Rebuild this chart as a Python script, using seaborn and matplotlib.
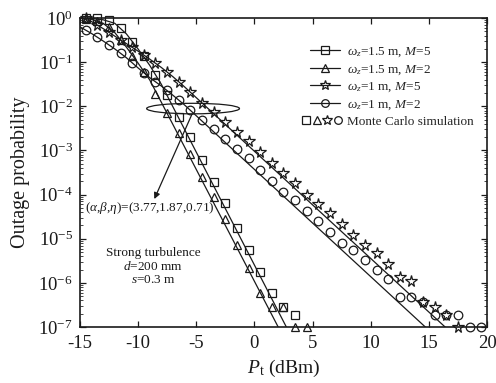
import numpy as np
import pandas as pd
import matplotlib
matplotlib.use("Agg")
import matplotlib.pyplot as plt
import seaborn as sns
from matplotlib.lines import Line2D
from matplotlib.patches import Ellipse
from matplotlib.legend_handler import HandlerBase
from matplotlib.ticker import LogLocator, NullFormatter, FixedLocator

# ---------------- data ----------------
# Monte Carlo simulation points (x in dBm, outage probability)
sq_x = [-14.5, -13.5, -12.5, -11.5, -10.5, -9.5, -8.5, -7.5, -6.5, -5.5, -4.5,
        -3.5, -2.5, -1.5, -0.5, 0.5, 1.5, 2.5, 3.5]
sq_p = [1.0, 1.0, 0.89, 0.59, 0.29, 0.14, 5.1e-2, 1.8e-2, 5.8e-3, 2.0e-3, 6.0e-4,
        1.9e-4, 6.3e-5, 1.8e-5, 5.5e-6, 1.8e-6, 5.8e-7, 2.8e-7, 1.9e-7]

tri_x = [-14.5, -13.5, -12.5, -11.5, -10.5, -9.5, -8.5, -7.5, -6.5, -5.5, -4.5,
         -3.5, -2.5, -1.5, -0.5, 0.5, 1.5, 2.5, 3.5, 4.5]
tri_p = [0.95, 0.87, 0.63, 0.32, 0.14, 6.0e-2, 1.9e-2, 7.1e-3, 2.5e-3, 8.3e-4,
         2.5e-4, 8.7e-5, 2.8e-5, 7.1e-6, 2.2e-6, 5.8e-7, 2.8e-7, 2.8e-7, 1.0e-7, 1.0e-7]

star_x = [-14.5, -13.5, -12.5, -11.5, -10.5, -9.5, -8.5, -7.5, -6.5, -5.5, -4.5,
          -3.5, -2.5, -1.5, -0.5, 0.5, 1.5, 2.5, 3.5, 4.5, 5.5, 6.5, 7.5, 8.5,
          9.5, 10.5, 11.5, 12.5, 13.5, 14.5, 15.5, 16.5, 17.5]
star_log_p = [0.0, -0.16, -0.32, -0.50, -0.66, -0.84, -1.02, -1.22, -1.45, -1.68,
              -1.92, -2.13, -2.36, -2.59, -2.79, -3.04, -3.29, -3.51, -3.74, -4.00,
              -4.22, -4.42, -4.66, -4.92, -5.15, -5.33, -5.58, -5.87, -5.96, -6.44,
              -6.55, -6.73, -7.0]

circ_x = [-14.5, -13.5, -12.5, -11.5, -10.5, -9.5, -8.5, -7.5, -6.5, -5.5, -4.5,
          -3.5, -2.5, -1.5, -0.5, 0.5, 1.5, 2.5, 3.5, 4.5, 5.5, 6.5, 7.5, 8.5,
          9.5, 10.5, 11.5, 12.5, 13.5, 14.5, 15.5, 16.5, 17.5, 18.5, 19.5]
circ_log_p = [-0.27, -0.43, -0.61, -0.80, -1.01, -1.25, -1.45, -1.63, -1.86, -2.09,
              -2.31, -2.52, -2.74, -2.97, -3.17, -3.45, -3.70, -3.95, -4.13, -4.37,
              -4.60, -4.85, -5.10, -5.26, -5.49, -5.71, -5.90, -6.33, -6.33, -6.44,
              -6.73, -6.73, -6.73, -7.0, -7.0]

# Theoretical (analytical) curves: points (log10 of probability)
sq_th_x = [-14.8, -14.0, -13.0, -12.0, -11.0, -10.0, -9.0, -8.0, 2.75]
sq_th_log = [0.0, -0.01, -0.04, -0.12, -0.36, -0.70, -1.07, -1.50, -7.0]

tri_th_x = [-14.8, -14.0, -13.0, -12.0, -11.0, -10.0, -9.0, 2.05]
tri_th_log = [0.0, -0.03, -0.12, -0.33, -0.66, -1.02, -1.40, -7.0]

star_th_x = [-14.8, -14.0, -13.0, -12.0, -11.0, -10.0, -9.0, -8.0, -7.0, -6.0, 16.4]
star_th_log = [0.0, -0.08, -0.24, -0.41, -0.58, -0.75, -0.93, -1.12, -1.33, -1.56, -7.0]

circ_th_x = [-15.0, -14.0, -13.0, -12.0, -11.0, -10.0, -9.0, -8.0, -7.0, -6.0, 14.7]
circ_th_log = [-0.20, -0.35, -0.52, -0.70, -0.90, -1.13, -1.35, -1.54, -1.75, -1.97, -7.0]

labels = [r"$\omega_z$=1.5 m, $M$=5", r"$\omega_z$=1.5 m, $M$=2",
          r"$\omega_z$=1 m, $M$=5", r"$\omega_z$=1 m, $M$=2"]
markers = ["s", "^", "*", "o"]
x_ticks = [-15, -10, -5, 0, 5, 10, 15, 20]
y_ticks = [1e-7, 1e-6, 1e-5, 1e-4, 1e-3, 1e-2, 1e-1, 1e0]

# ---------------- style ----------------
sns.set_theme(style="ticks")
plt.rcParams['font.family'] = ['Liberation Serif', 'DejaVu Serif']
plt.rcParams['mathtext.fontset'] = 'custom'
plt.rcParams['mathtext.rm'] = 'Liberation Serif'
plt.rcParams['mathtext.it'] = 'Liberation Serif:italic'
plt.rcParams['mathtext.bf'] = 'Liberation Serif:bold'
plt.rcParams['axes.unicode_minus'] = False

fig = plt.figure(figsize=(4.96, 3.83), dpi=100)
ax = fig.add_axes([0.161, 0.146, 0.821, 0.807])

th_sets = [(sq_th_x, sq_th_log), (tri_th_x, tri_th_log),
           (star_th_x, star_th_log), (circ_th_x, circ_th_log)]
mc_sets = [(sq_x, list(np.log10(sq_p))), (tri_x, list(np.log10(tri_p))),
           (star_x, star_log_p), (circ_x, circ_log_p)]
msizes = [6.2, 6.2, 8.5, 6.2]

for (tx, tl) in th_sets:
    df = pd.DataFrame({"x": tx, "p": 10.0 ** np.array(tl)})
    sns.lineplot(data=df, x="x", y="p", color="k", lw=0.9, ax=ax,
                 estimator=None, sort=False)

for (mx, ml), mk, ms in zip(mc_sets, markers, msizes):
    df = pd.DataFrame({"x": mx, "p": 10.0 ** np.array(ml)})
    sns.lineplot(data=df, x="x", y="p", color="k", linestyle="", marker=mk,
                 markersize=ms, markerfacecolor="none", markeredgecolor="k",
                 markeredgewidth=0.9, ax=ax, estimator=None, sort=False,
                 clip_on=False)

ax.set_yscale("log")
ax.set_xlim(-15, 20)
ax.set_ylim(1e-7, 1)
ax.xaxis.set_major_locator(FixedLocator(x_ticks))
ax.set_xticklabels([str(t) for t in x_ticks])
ax.yaxis.set_major_locator(FixedLocator(y_ticks))
ax.yaxis.set_minor_locator(LogLocator(base=10, subs=np.arange(2, 10)))
ax.yaxis.set_minor_formatter(NullFormatter())
ax.set_yticklabels([r"$\mathregular{10^{%d}}$" % e for e in range(-7, 1)])

ax.tick_params(axis="both", which="major", direction="in", length=4, width=0.9,
               top=True, right=True, labelsize=13.5, colors="k")
ax.tick_params(axis="y", which="minor", direction="in", length=2, width=0.6,
               left=True, right=True)
ax.tick_params(axis="x", which="major", pad=6)
ax.tick_params(axis="y", which="major", pad=5)
for s in ax.spines.values():
    s.set_linewidth(1.2)
    s.set_color("k")

ax.set_xlabel(r"$P_{\mathregular{t}}$ (dBm)", fontsize=14, color="k", labelpad=4)
ax.set_ylabel("Outage probability", fontsize=14.5, color="k", labelpad=6)

# legend
class MCHandler(HandlerBase):
    def create_artists(self, legend, orig_handle, xdescent, ydescent, width,
                       height, fontsize, trans):
        arts = []
        y = height / 2.0 - ydescent
        step = 0.8 * fontsize
        for i, (mk, ms) in enumerate(zip(markers, [5.5, 6.0, 7.5, 5.5])):
            x = width - xdescent - 0.2 * fontsize - (3 - i) * step
            ln = Line2D([x], [y], linestyle="", marker=mk, markersize=ms,
                        markerfacecolor="none", markeredgecolor="k",
                        markeredgewidth=0.9, transform=trans)
            arts.append(ln)
        return arts

class MCDummy:
    pass

handles = [Line2D([], [], color="k", lw=0.9, marker=mk, markersize=ms,
                  markerfacecolor="none", markeredgecolor="k", markeredgewidth=0.9)
           for mk, ms in zip(markers, [5.5, 6.0, 7.5, 5.5])]
mc = MCDummy()
leg = ax.legend(handles + [mc], labels + ["Monte Carlo simulation"],
                handler_map={MCDummy: MCHandler()},
                loc="upper left", bbox_to_anchor=(0.565, 0.91), frameon=False,
                fontsize=9.5, handlelength=2.3, handletextpad=0.5,
                labelspacing=0.3, borderpad=0, borderaxespad=0)

# annotations
ax.add_patch(Ellipse((0.278, 0.707), 0.228, 0.034, transform=ax.transAxes,
                     fill=False, lw=0.9, ec="k"))
ax.annotate("", xy=(-8.6, 10 ** -4.1), xytext=(-5.4, 10 ** -2.2),
            arrowprops=dict(arrowstyle="-|>", color="k", lw=0.9,
                            mutation_scale=9, shrinkA=0, shrinkB=0))
ax.text(-14.6, 10 ** -4.31, r"($\alpha$,$\beta$,$\eta$)=(3.77,1.87,0.71)",
        fontsize=9.5, ha="left", va="center", color="k")
ax.text(-8.7, 10 ** -5.62, "Strong turbulence\n$d$=200 mm\n$s$=0.3 m",
        fontsize=9.5, ha="center", va="center", multialignment="center",
        color="k", linespacing=1.1)

fig.savefig("out.png", dpi=100)
